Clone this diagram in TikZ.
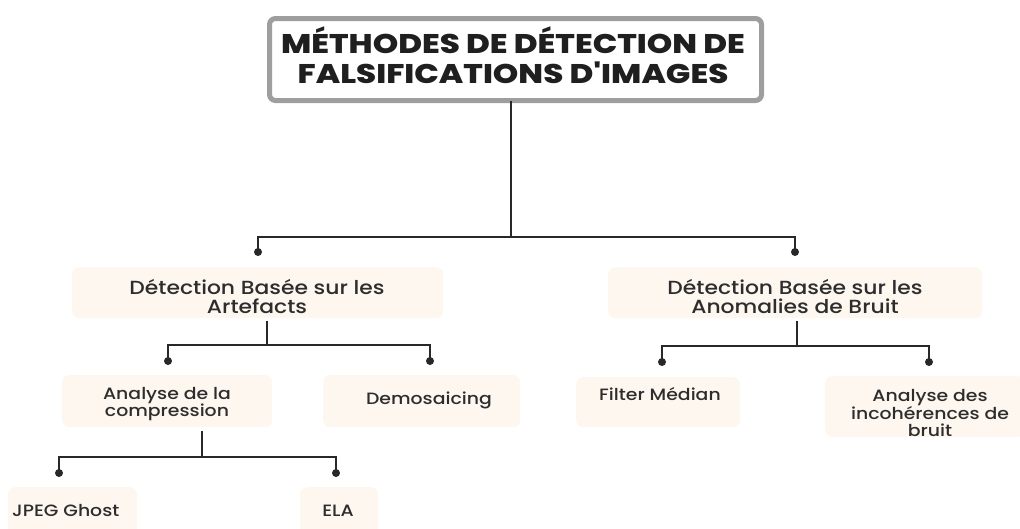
\documentclass[tikz,border=0pt]{standalone}
\usepackage{fontspec}
\setmainfont{Poppins}[UprightFont=* Medium, BoldFont=* ExtraBold, FakeStretch=1.15]
\newfontfamily\headfont{Poppins}[UprightFont=* ExtraBold, FakeStretch=1.2]
\definecolor{linec}{RGB}{40,40,40}
\definecolor{txt}{RGB}{45,45,45}
\definecolor{cardbg}{RGB}{254,247,240}
\definecolor{frame}{RGB}{158,158,158}
\begin{document}
\begin{tikzpicture}[x=1pt,y=1pt,
  link/.style={draw=linec, line width=1.8pt},
  dot/.style={circle, fill=linec, inner sep=0pt, minimum size=8pt},
  card/.style={fill=cardbg, rounded corners=7pt, inner sep=0pt, anchor=north west},
  lbl/.style={font=\fontsize{19}{19}\selectfont, text=txt, align=center, inner sep=0pt},
  sublbl/.style={lbl, font=\fontsize{16.4}{17}\selectfont},
  headbox/.style={draw=frame, line width=5pt, rounded corners=6pt, fill=white, inner sep=0pt, anchor=north west},
]
\useasboundingbox (0,0) rectangle (1020,-528);

% heading
\node[headbox, minimum width=492pt, minimum height=82pt] (head) at (267,-16) {};
\node[font=\headfont\fontsize{27}{30}\selectfont, text=black!88, align=center, inner sep=0pt]
  (headT) at (513,-55) {MÉTHODES DE DÉTECTION DE\\FALSIFICATIONS D'IMAGES};

% first level
\node[card, minimum width=371pt, minimum height=51pt] (art) at (72,-267) {};
\node[lbl] (artT) at (257,-297) {Détection Basée sur les\\Artefacts};
\node[card, minimum width=374pt, minimum height=51pt] (noi) at (608,-267) {};
\node[lbl] (noiT) at (795,-297) {Détection Basée sur les\\Anomalies de Bruit};

% second level, left
\node[card, minimum width=210pt, minimum height=52pt] (cmp) at (62,-375) {};
\node[sublbl] (cmpT) at (167,-404) {Analyse de la\\compression};
\node[card, minimum width=197pt, minimum height=52pt] (dem) at (323,-375) {};
\node[sublbl, anchor=base] (demT) at (429,-404) {Demosaicing};

% second level, right
\node[card, minimum width=164pt, minimum height=50pt] (med) at (576,-377) {};
\node[sublbl, anchor=base] (medT) at (660,-400) {Filter Médian};
\node[card, minimum width=200pt, minimum height=61pt] (inc) at (825,-376) {};
\node[sublbl] (incT) at (930,-413) {Analyse des\\incohérences de\\bruit};

% third level
\node[card, minimum width=129pt, minimum height=50pt] (jpg) at (8,-487) {};
\node[sublbl, anchor=base west] (jpgT) at (12,-516) {JPEG Ghost};
\node[card, minimum width=78pt, minimum height=50pt] (ela) at (300,-487) {};
\node[sublbl, anchor=base] (elaT) at (338,-516) {ELA};

% connector dots
\node[dot] (dArt) at (258,-252) {};
\node[dot] (dNoi) at (795,-252) {};
\node[dot] (dCmp) at (168,-361) {};
\node[dot] (dDem) at (430,-361) {};
\node[dot] (dMed) at (662,-362) {};
\node[dot] (dInc) at (929,-362) {};
\node[dot] (dJpg) at (59,-473) {};
\node[dot] (dEla) at (336,-473) {};

% bus lines
\coordinate (b0) at (511,-237);
\coordinate (b1) at (267,-345);
\coordinate (b2) at (797,-346);
\coordinate (b3) at (202,-457);

\draw[link] (511,-101) -- (b0);
\draw[link] (dArt.center) |- (b0) -| (dNoi.center);

\draw[link] (267,-321) -- (b1);
\draw[link] (dCmp.center) |- (b1) -| (dDem.center);

\draw[link] (797,-321) -- (b2);
\draw[link] (dMed.center) |- (b2) -| (dInc.center);

\draw[link] (202,-431) -- (b3);
\draw[link] (dJpg.center) |- (b3) -| (dEla.center);
\end{tikzpicture}
\end{document}
